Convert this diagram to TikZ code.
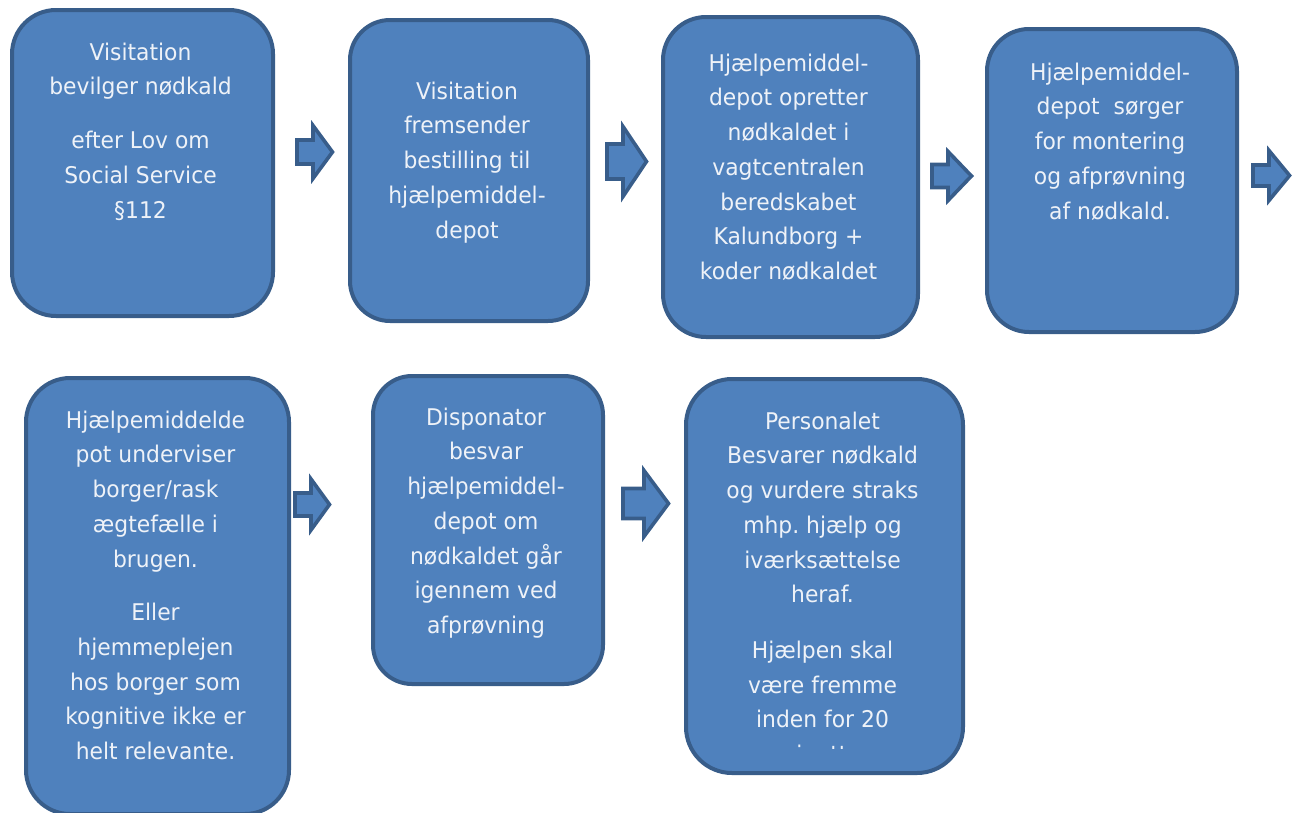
\documentclass[tikz,border=0pt]{standalone}
\usepackage{fontspec}
\newfontfamily\boxfont{DejaVu Sans}[FakeStretch=0.95]
\definecolor{boxfill}{HTML}{4F81BD}
\definecolor{boxline}{HTML}{385D8A}
\definecolor{boxtext}{HTML}{EEF2F8}
\newcommand\flowarrow[7]{% name, x0, xb, x1, yc, body half, head half
  \draw[blockarrow] ({#2},{#5-#6}) -- ({#3},{#5-#6}) -- ({#3},{#5-#7}) -- ({#4},{#5})
    -- ({#3},{#5+#7}) -- ({#3},{#5+#6}) -- ({#2},{#5+#6}) -- cycle;
  \coordinate (#1) at ({(#2+#4)/2},{#5});}
\tikzset{
  box/.style={draw=boxline, fill=boxfill, line width=4pt, inner sep=0pt, anchor=north west},
  txt/.style={text=boxtext, align=center, inner sep=0pt, anchor=north,
    font=\boxfont\fontsize{23}{34.7}\selectfont\frenchspacing},
  blockarrow/.style={draw=boxline, fill=boxfill, line width=3.6pt, line join=miter},
}
\newcommand\firstline{\rule{0pt}{20pt}}
\begin{document}
\begin{tikzpicture}[x=1pt,y=-1pt]
\useasboundingbox (0,0) rectangle (1294,812);
% top row
\node[box, rounded corners=44pt, minimum width=261pt, minimum height=306pt] (b1) at (10,8) {};
\node[txt] (t1) at (140.5,40) {\firstline Visitation\\ bevilger nødkald\\[19pt] efter Lov om\\ Social Service\\ §112};
\node[box, rounded corners=40pt, minimum width=238pt, minimum height=301pt] (b2) at (348,18) {};
\node[txt] (t2) at (467,79) {\firstline Visitation\\ fremsender\\ bestilling til\\ hjælpemiddel-\\ depot};
\node[box, rounded corners=43pt, minimum width=255pt, minimum height=320pt] (b3) at (661,15) {};
\node[txt] (t3) at (788.5,51) {\firstline Hjælpemiddel-\\ depot opretter\\ nødkaldet i\\ vagtcentralen\\ beredskabet\\ Kalundborg +\\ koder nødkaldet};
\node[box, rounded corners=42pt, minimum width=250pt, minimum height=303pt] (b4) at (985,27) {};
\node[txt] (t4) at (1110,60) {\firstline Hjælpemiddel-\\ depot\ \ sørger\\ for montering\\ og afprøvning\\ af nødkald.};
% bottom row
\node[box, rounded corners=44pt, minimum width=263pt, minimum height=436pt] (b5) at (24,376) {};
\node[txt] (t5) at (155.5,408) {\firstline Hjælpemiddelde\\ pot underviser\\ borger/rask\\ ægtefælle i\\ brugen.\\[19pt] Eller\\ hjemmeplejen\\ hos borger som\\ kognitive ikke er\\ helt relevante.};
\node[box, rounded corners=39pt, minimum width=230pt, minimum height=308pt] (b6) at (371,374) {};
\node[txt] (t6) at (486,405) {\firstline Disponator\\ besvar\\ hjælpemiddel-\\ depot om\\ nødkaldet går\\ igennem ved\\ afprøvning};
\node[box, rounded corners=46pt, minimum width=277pt, minimum height=394pt] (b7) at (684,377) {};
\begin{scope}
\clip (684,377) rectangle (961,748);
\node[txt] (t7) at (822.5,409) {\firstline Personalet\\ Besvarer nødkald\\ og vurdere straks\\ mhp. hjælp og\\ iværksættelse\\ heraf.\\[21pt] Hjælpen skal\\ være fremme\\ inden for 20\\ minutter};
\end{scope}
% block arrows
\flowarrow{a1}{297}{313}{332.5}{152}{12}{26.5}
\flowarrow{a2}{607}{623}{646.5}{161.5}{17.5}{35}
\flowarrow{a3}{932}{948}{971.5}{176}{11.5}{24.5}
\flowarrow{a4}{1253}{1269}{1289.5}{175.5}{10.5}{25}
\flowarrow{a5}{295}{311}{329.5}{504.5}{11.5}{25.5}
\flowarrow{a6}{623}{644}{668.5}{503.5}{15}{33}
\end{tikzpicture}
\end{document}
